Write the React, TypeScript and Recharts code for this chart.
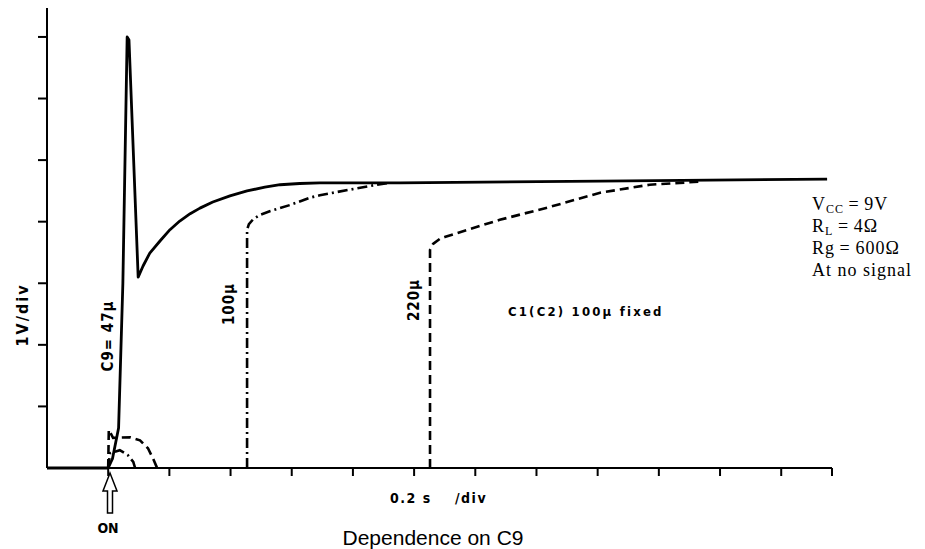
import React from 'react';
import { LineChart, Line, XAxis, YAxis } from 'recharts';

// x: time in divisions (0.2 s/div), ON at 1 div; y: output in divisions (1 V/div)
const xTicks = [1, 2, 3, 4, 5, 6, 7, 8, 9, 10, 11, 12, 12.83];
const yTicks = [1, 2, 3, 4, 5, 6, 7];

// C9 = 47u (solid)
const c9_47 = [
  { t: 0, v: 0 }, { t: 1.0, v: 0 }, { t: 1.07, v: 0.15 }, { t: 1.17, v: 0.65 },
  { t: 1.24, v: 3.0 }, { t: 1.31, v: 7.0 }, { t: 1.34, v: 6.95 }, { t: 1.49, v: 3.1 },
  { t: 1.57, v: 3.28 }, { t: 1.68, v: 3.49 }, { t: 1.85, v: 3.69 }, { t: 2.01, v: 3.87 },
  { t: 2.17, v: 4.01 }, { t: 2.34, v: 4.13 }, { t: 2.5, v: 4.22 }, { t: 2.71, v: 4.32 },
  { t: 2.99, v: 4.42 }, { t: 3.27, v: 4.5 }, { t: 3.56, v: 4.56 }, { t: 3.81, v: 4.6 },
  { t: 4.13, v: 4.62 }, { t: 4.46, v: 4.63 }, { t: 5.77, v: 4.63 }, { t: 9.04, v: 4.66 },
  { t: 12.75, v: 4.69 },
];

// C9 = 100u (dash-dot); the null splits the start blip from the later rise
const c9_100 = [
  { t: 1.0, v: 0 }, { t: 1.03, v: 0.24 }, { t: 1.19, v: 0.29 },
  { t: 1.32, v: 0.21 }, { t: 1.41, v: 0.1 }, { t: 1.44, v: 0 }, { t: 2.0, v: null },
  { t: 3.27, v: 0 }, { t: 3.27, v: 3.87 }, { t: 3.3, v: 3.96 }, { t: 3.37, v: 4.04 },
  { t: 3.48, v: 4.11 }, { t: 3.64, v: 4.17 }, { t: 3.97, v: 4.27 }, { t: 4.3, v: 4.39 },
  { t: 4.46, v: 4.43 }, { t: 4.95, v: 4.52 }, { t: 5.39, v: 4.6 }, { t: 5.6, v: 4.63 },
];

// C9 = 220u (dashed)
const c9_220 = [
  { t: 1.0, v: 0 }, { t: 1.01, v: 0.62 }, { t: 1.08, v: 0.49 },
  { t: 1.36, v: 0.5 }, { t: 1.52, v: 0.45 }, { t: 1.65, v: 0.32 }, { t: 1.73, v: 0.16 },
  { t: 1.8, v: 0 }, { t: 3.0, v: null }, { t: 6.26, v: 0 }, { t: 6.26, v: 3.54 },
  { t: 6.31, v: 3.64 }, { t: 6.42, v: 3.72 }, { t: 6.5, v: 3.75 }, { t: 6.91, v: 3.88 },
  { t: 7.4, v: 4.03 }, { t: 8.22, v: 4.24 }, { t: 9.04, v: 4.47 }, { t: 9.85, v: 4.6 },
  { t: 10.67, v: 4.65 },
];

const labelFont = '"Liberation Sans Narrow", "DejaVu Sans Condensed", "Liberation Sans", sans-serif';
const serif = '"Liberation Serif", "DejaVu Serif", serif';

export default function App() {
  return (
    <div style={{ position: 'absolute', left: 0, top: 0, width: 925, height: 549, background: '#fff' }}>
      <LineChart width={925} height={549} margin={{ top: 8, right: 93, bottom: 0, left: 0 }}>
        <XAxis
          type="number"
          dataKey="t"
          domain={[0, 12.83]}
          ticks={xTicks}
          height={81}
          stroke="#000"
          strokeWidth={2}
          tickSize={8}
          tickFormatter={() => ''}
        />
        <YAxis
          type="number"
          dataKey="v"
          domain={[0, 7.47]}
          ticks={yTicks}
          width={47}
          stroke="#000"
          strokeWidth={2}
          tickSize={9}
          tickFormatter={() => ''}
        />
        <Line data={c9_220} dataKey="v" type="linear" stroke="#000" strokeWidth={2.6}
          strokeDasharray="9 5" dot={false} connectNulls={false} isAnimationActive={false} />
        <Line data={c9_100} dataKey="v" type="linear" stroke="#000" strokeWidth={2.6}
          strokeDasharray="10 4 2 4" dot={false} connectNulls={false} isAnimationActive={false} />
        <Line data={c9_47} dataKey="v" type="linear" stroke="#000" strokeWidth={2.8}
          strokeLinejoin="round" dot={false} isAnimationActive={false} />
      </LineChart>

      <svg width={925} height={549} style={{ position: 'absolute', left: 0, top: 0, pointerEvents: 'none' }}>
        <g fontFamily={labelFont} fontWeight="bold" fill="#000">
          <text transform="translate(28,315) rotate(-90)" textAnchor="middle" fontSize={16} letterSpacing={2}>1V/div</text>
          <text transform="translate(113,336) rotate(-90)" textAnchor="middle" fontSize={15} letterSpacing={1}>C9= 47µ</text>
          <text transform="translate(234,304) rotate(-90)" textAnchor="middle" fontSize={15} letterSpacing={1}>100µ</text>
          <text transform="translate(419,300) rotate(-90)" textAnchor="middle" fontSize={15} letterSpacing={1}>220µ</text>
          <text x={508} y={316} fontSize={13} letterSpacing={2.2}>C1(C2)  100µ  fixed</text>
          <text x={390} y={503} fontSize={14} letterSpacing={1.5}>0.2 s</text>
          <text x={455} y={503} fontSize={14} letterSpacing={1.5}>/div</text>
          <text x={108} y={533} textAnchor="middle" fontSize={14}>ON</text>
        </g>
        <polygon
          points="110,473 103,491 107.5,491 107.5,513 112.5,513 112.5,491 117,491"
          fill="#fff" stroke="#000" strokeWidth={1.5}
        />
        <text x={433} y={545} textAnchor="middle" fontFamily='"Liberation Sans", Arial, sans-serif' fontSize={21}>
          Dependence on C9
        </text>
        <g fontFamily={serif} fontSize={18} fill="#000" letterSpacing={1}>
          <text x={812} y={210}>V<tspan fontSize={12} dy={3}>CC</tspan><tspan dy={-3}>{'\u2009=\u20099V'}</tspan></text>
          <text x={812} y={232}>R<tspan fontSize={12} dy={3}>L</tspan><tspan dy={-3}>{'\u2009=\u20094Ω'}</tspan></text>
          <text x={812} y={254}>Rg{'\u2009=\u2009'}600Ω</text>
          <text x={812} y={276}>At no signal</text>
        </g>
      </svg>
    </div>
  );
}
